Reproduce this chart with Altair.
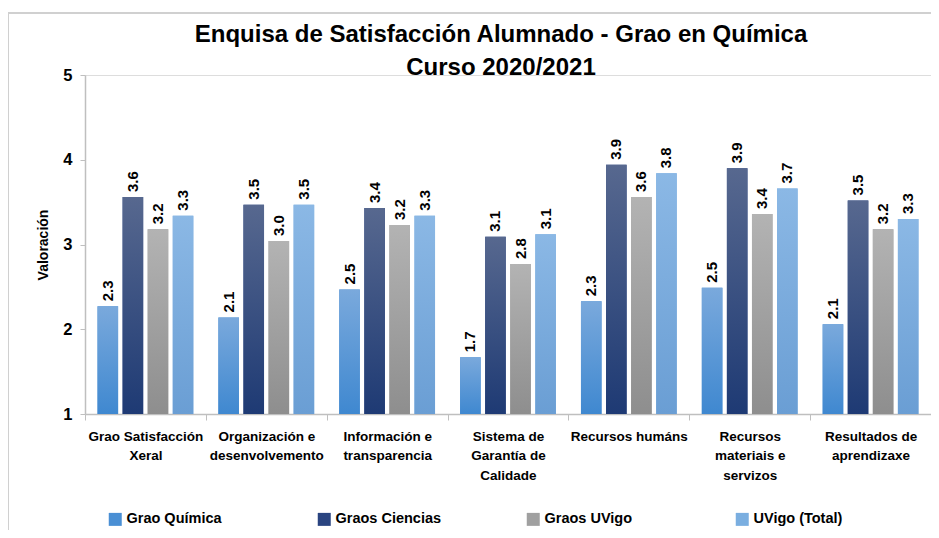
import altair as alt
import pandas as pd

categories = [
    "Grao Satisfacción\nXeral",
    "Organización e\ndesenvolvemento",
    "Información e\ntransparencia",
    "Sistema de\nGarantía de\nCalidade",
    "Recursos humáns",
    "Recursos\nmateriais e\nservizos",
    "Resultados de\naprendizaxe",
]
series = ["Grao Química", "Graos Ciencias", "Graos UVigo", "UVigo (Total)"]
grao_quimica = [2.27, 2.14, 2.47, 1.67, 2.33, 2.49, 2.06]
graos_ciencias = [3.56, 3.47, 3.43, 3.09, 3.94, 3.90, 3.52]
graos_uvigo = [3.18, 3.04, 3.23, 2.77, 3.56, 3.36, 3.18]
uvigo_total = [3.34, 3.47, 3.34, 3.12, 3.84, 3.66, 3.30]
values = [grao_quimica, graos_ciencias, graos_uvigo, uvigo_total]
title_lines = "Enquisa de Satisfacción Alumnado - Grao en Química\nCurso 2020/2021"

solid = ["#4a8fd4", "#2a4480", "#a0a0a0", "#7aaee0"]
grads = [
    ("#7aa9dc", "#3f88d0"),
    ("#57688f", "#1e3a74"),
    ("#b3b3b3", "#8e8e8e"),
    ("#8bb8e5", "#6a9ed4"),
]

rows = []
for s, vals in zip(series, values):
    for c, v in zip(categories, vals):
        rows.append({"cat": c, "series": s, "value": v})
df = pd.DataFrame(rows)

FONT = "Liberation Sans"

x_enc = alt.X(
    "cat:N",
    sort=categories,
    scale=alt.Scale(paddingInner=0, paddingOuter=0),
    axis=alt.Axis(
        title=None,
        labelAngle=0,
        labelExpr="split(datum.label, '\\n')",
        labelFontSize=13.5,
        labelFontWeight="bold",
        labelFont=FONT,
        labelColor="#000000",
        labelLineHeight=19.5,
        labelPadding=9,
        labelLimit=200,
        tickBand="extent",
        tickColor="#bfbfbf",
        tickSize=6,
        domainColor="#bfbfbf",
        domainWidth=1.5,
    ),
)
xo_enc = alt.XOffset(
    "series:N",
    sort=series,
    scale=alt.Scale(domain=series, paddingInner=0.18, paddingOuter=0.5),
)
y_enc = alt.Y(
    "value:Q",
    scale=alt.Scale(domain=[1, 5], nice=False, zero=False),
    axis=alt.Axis(
        title="Valoración",
        values=[1, 2, 3, 4, 5],
        grid=False,
        labelFontSize=16.5,
        labelFontWeight="bold",
        labelFont=FONT,
        labelColor="#000000",
        labelPadding=8,
        titleFontSize=14,
        titleFontWeight="bold",
        titleFont=FONT,
        titleColor="#000000",
        titlePadding=12,
        tickColor="#bfbfbf",
        tickSize=5,
        domainColor="#bfbfbf",
        domainWidth=1.5,
    ),
)

base = alt.Chart(df)

legend_bars = base.mark_bar().encode(
    x=x_enc,
    xOffset=xo_enc,
    y=y_enc,
    y2=alt.datum(1),
    color=alt.Color(
        "series:N",
        sort=series,
        scale=alt.Scale(domain=series, range=solid),
        legend=alt.Legend(
            title=None,
            orient="none",
            legendX=23,
            legendY=437,
            direction="horizontal",
            columns=4,
            gridAlign="all",
            columnPadding=84,
            symbolType="square",
            symbolSize=169,
            symbolStrokeWidth=0,
            symbolOffset=0,
            labelFontSize=14.5,
            labelFontWeight="bold",
            labelFont=FONT,
            labelColor="#000000",
            labelOffset=4,
            labelLimit=300,
        ),
    ),
)

layers = [legend_bars]
for s, (top, bottom) in zip(series, grads):
    layers.append(
        base.transform_filter(alt.datum.series == s)
        .mark_bar(
            color=alt.Gradient(
                gradient="linear",
                stops=[
                    alt.GradientStop(color=top, offset=0),
                    alt.GradientStop(color=bottom, offset=1),
                ],
                x1=0, x2=0, y1=0, y2=1,
            )
        )
        .encode(x=x_enc, xOffset=xo_enc, y=y_enc, y2=alt.datum(1))
    )

labels = base.mark_text(
    angle=270,
    align="left",
    baseline="middle",
    dx=5,
    fontSize=15,
    fontWeight="bold",
    font=FONT,
    color="#000000",
).encode(
    x=x_enc,
    xOffset=xo_enc,
    y=y_enc,
    text=alt.Text("value:Q", format=".1f"),
)
layers.append(labels)

title_df = pd.DataFrame({"t": [title_lines]})
title_mark = alt.Chart(title_df).mark_text(
    lineBreak="\n",
    lineHeight=33,
    align="center",
    baseline="middle",
    fontSize=24,
    fontWeight="bold",
    font=FONT,
    color="#000000",
).encode(x=alt.value(416), y=alt.value(-40), text="t:N")
layers.append(title_mark)

frame_df = pd.DataFrame({"a": [0]})
frame_top = alt.Chart(frame_df).mark_rule(color="#d0d0d0", strokeWidth=2).encode(
    x=alt.value(-77), x2=alt.value(900), y=alt.value(-62)
)
frame_left = alt.Chart(frame_df).mark_rule(color="#d0d0d0", strokeWidth=2).encode(
    x=alt.value(-77), y=alt.value(-62), y2=alt.value(470)
)
layers += [frame_top, frame_left]

chart = (
    alt.layer(*layers)
    .properties(
        width=846,
        height=339,
        padding={"left": 77, "top": 67, "right": 0, "bottom": 116},
        autosize=alt.AutoSizeParams(type="none"),
    )
    .configure_view(stroke=None)
    .configure(background="#ffffff")
)

chart.save("out.html", embed_options={"renderer": "svg", "actions": False})
